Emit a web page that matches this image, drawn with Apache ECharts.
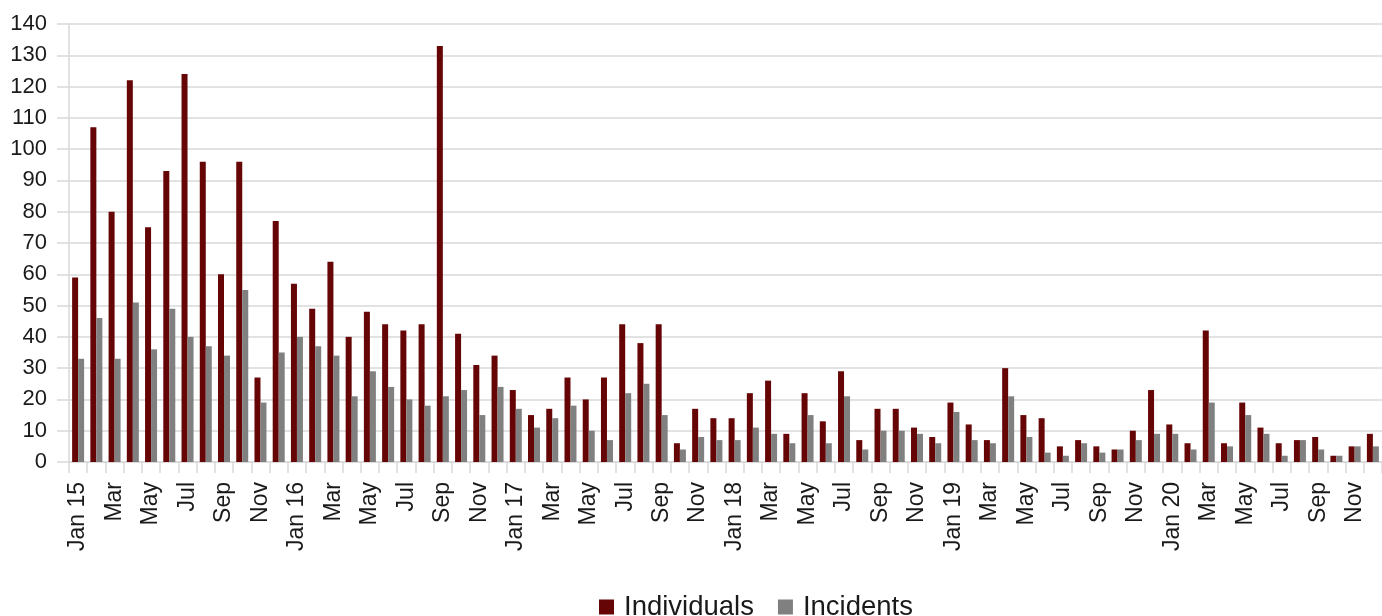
<!DOCTYPE html>
<html>
<head>
<meta charset="utf-8">
<title>Individuals and Incidents per month</title>
<script src="https://cdn.jsdelivr.net/npm/echarts@6/dist/echarts.min.js"></script>
<style>
  html, body { margin: 0; padding: 0; background: #ffffff; }
  #chart { width: 1382px; height: 616px; }
</style>
</head>
<body>
<div id="chart"></div>
<script>
// Months, Jan 2015 – Dec 2020 (January carries the two-digit year)
const months = [
  'Jan 15','Feb','Mar','Apr','May','Jun','Jul','Aug','Sep','Oct','Nov','Dec',
  'Jan 16','Feb','Mar','Apr','May','Jun','Jul','Aug','Sep','Oct','Nov','Dec',
  'Jan 17','Feb','Mar','Apr','May','Jun','Jul','Aug','Sep','Oct','Nov','Dec',
  'Jan 18','Feb','Mar','Apr','May','Jun','Jul','Aug','Sep','Oct','Nov','Dec',
  'Jan 19','Feb','Mar','Apr','May','Jun','Jul','Aug','Sep','Oct','Nov','Dec',
  'Jan 20','Feb','Mar','Apr','May','Jun','Jul','Aug','Sep','Oct','Nov','Dec'
];

const individuals = [
  59, 107, 80, 122, 75, 93, 124, 96, 60, 96, 27, 77,
  57, 49, 64, 40, 48, 44, 42, 44, 133, 41, 31, 34,
  23, 15, 17, 27, 20, 27, 44, 38, 44, 6, 17, 14,
  14, 22, 26, 9, 22, 13, 29, 7, 17, 17, 11, 8,
  19, 12, 7, 30, 15, 14, 5, 7, 5, 4, 10, 23,
  12, 6, 42, 6, 19, 11, 6, 7, 8, 2, 5, 9
];

const incidents = [
  33, 46, 33, 51, 36, 49, 40, 37, 34, 55, 19, 35,
  40, 37, 34, 21, 29, 24, 20, 18, 21, 23, 15, 24,
  17, 11, 14, 18, 10, 7, 22, 25, 15, 4, 8, 7,
  7, 11, 9, 6, 15, 6, 21, 4, 10, 10, 9, 6,
  16, 7, 6, 21, 8, 3, 2, 6, 3, 4, 7, 9,
  9, 4, 19, 5, 15, 9, 2, 7, 4, 2, 5, 5
];

const yTicks = { min: 0, max: 140, interval: 10 };

const gridColor = '#d9d9d9';
const textColor = '#1a1a1a';
const font = '"Liberation Sans", Arial, sans-serif';

const chart = echarts.init(document.getElementById('chart'), null, { renderer: 'canvas' });

chart.setOption({
  animation: false,
  backgroundColor: '#ffffff',
  textStyle: { fontFamily: font },
  // plot runs past the right edge of the canvas, so December 2020 is clipped
  grid: { left: 69, top: 24, width: 1320, bottom: 154, containLabel: false },
  legend: {
    data: ['Individuals', 'Incidents'],
    left: 599,
    top: 593,
    padding: 0,
    itemWidth: 15,
    itemHeight: 15,
    itemGap: 24,
    icon: 'rect',
    textStyle: {
      fontSize: 27.5,
      color: textColor,
      fontFamily: font,
      padding: [0, 0, 0, 5]
    }
  },
  xAxis: {
    type: 'category',
    data: months,
    boundaryGap: true,
    axisLine: { show: true, lineStyle: { color: gridColor, width: 1.5 } },
    axisTick: { show: true, interval: 0, length: 11, lineStyle: { color: gridColor, width: 1.5 } },
    axisLabel: {
      interval: 1,
      rotate: 90,
      margin: 20,
      fontSize: 23,
      color: textColor,
      fontFamily: font
    },
    splitLine: { show: false }
  },
  yAxis: {
    type: 'value',
    min: yTicks.min,
    max: yTicks.max,
    interval: yTicks.interval,
    axisLine: { show: true, lineStyle: { color: gridColor, width: 1.5 } },
    axisTick: { show: true, length: 12, lineStyle: { color: gridColor, width: 1.5 } },
    axisLabel: { fontSize: 22, color: textColor, margin: 22, fontFamily: font },
    splitLine: { show: true, lineStyle: { color: gridColor, width: 1.5 } }
  },
  series: [
    {
      name: 'Individuals',
      type: 'bar',
      data: individuals,
      barWidth: 6,
      barGap: '0%',
      itemStyle: { color: '#650505' }
    },
    {
      name: 'Incidents',
      type: 'bar',
      data: incidents,
      barWidth: 6,
      barGap: '0%',
      itemStyle: { color: '#808080' }
    }
  ]
});
</script>
</body>
</html>
